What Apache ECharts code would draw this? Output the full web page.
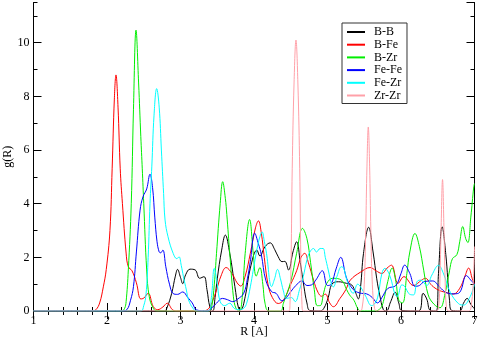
<!DOCTYPE html>
<html>
<head>
<meta charset="utf-8">
<script src="https://cdn.jsdelivr.net/npm/echarts@6/dist/echarts.min.js"></script>
<style>
  html, body { margin: 0; padding: 0; background: #fff; }
  #chart { width: 480px; height: 340px; }
</style>
</head>
<body>
<div id="chart"></div>
<script>
// pair names, in legend order
const names = ['B-B', 'B-Fe', 'B-Zr', 'Fe-Fe', 'Fe-Zr', 'Zr-Zr'];
const colors = ['#000000', '#ff0000', '#00ee00', '#0000ff', '#00ffff', '#ffa0a8'];

// g(R) curves, [R, g]
const bB = [[1.0,0],[2.78,0],[2.82,0.15],[2.88,0.66],[2.93,1.3],[2.96,1.55],[3.0,1.25],[3.03,1.02],[3.07,1.35],[3.13,1.56],[3.2,1.53],[3.26,1.22],[3.32,1.28],[3.36,0.8],[3.4,0.15],[3.44,0],[3.47,0.5],[3.5,1.2],[3.56,2.27],[3.61,2.83],[3.67,2.15],[3.74,0.91],[3.79,0.1],[3.82,0.05],[3.88,0.53],[3.95,1.6],[4.04,2.27],[4.08,2.05],[4.15,2.4],[4.22,2.54],[4.28,2.3],[4.33,2.02],[4.38,1.84],[4.42,1.85],[4.47,1.53],[4.53,2.2],[4.58,2.58],[4.63,1.8],[4.68,0.9],[4.72,0.3],[4.76,0.02],[4.9,0],[4.95,0.1],[5.01,0.5],[5.06,1.0],[5.15,1.09],[5.26,1.03],[5.33,0.97],[5.38,0.7],[5.42,0.45],[5.45,0.9],[5.49,2.15],[5.56,3.12],[5.62,2.2],[5.67,1.2],[5.71,0.6],[5.76,0.05],[5.8,0],[5.86,0.35],[5.92,0.7],[5.97,0.3],[6.01,0.02],[6.24,0],[6.3,0.66],[6.35,0.45],[6.4,0.02],[6.48,0],[6.51,1.4],[6.56,3.14],[6.61,2.1],[6.66,0.4],[6.69,0.02],[6.8,0],[6.85,0.29],[6.9,0.47],[6.95,0.25],[7.0,0.08]];

const bFe = [[1.0,0],[1.8,0],[1.85,0.05],[1.9,0.3],[1.95,0.9],[1.99,1.55],[2.04,3.0],[2.07,5.3],[2.1,7.9],[2.122,8.8],[2.15,7.6],[2.18,5.3],[2.21,4.0],[2.26,2.16],[2.29,1.65],[2.34,1.5],[2.4,1.05],[2.46,0.45],[2.5,0.48],[2.56,0.66],[2.63,0.16],[2.69,0.05],[2.76,0.15],[2.82,0.29],[2.89,0.05],[2.95,0],[3.3,0],[3.38,0.08],[3.44,0.4],[3.49,0.78],[3.55,1.3],[3.62,1.62],[3.7,1.4],[3.77,1.05],[3.82,0.93],[3.88,1.3],[3.95,2.15],[4.02,3.1],[4.06,3.36],[4.1,2.9],[4.14,2.0],[4.19,1.0],[4.25,0.5],[4.33,0.28],[4.4,0.4],[4.5,1.0],[4.58,1.5],[4.64,2.0],[4.69,2.15],[4.74,1.8],[4.81,1.15],[4.87,0.7],[4.92,0.55],[4.97,0.63],[5.03,0.3],[5.08,0.16],[5.17,0.47],[5.25,0.8],[5.31,1.15],[5.45,1.45],[5.58,1.62],[5.66,1.5],[5.74,1.4],[5.81,1.6],[5.87,1.71],[5.96,1.03],[6.04,1.28],[6.17,0.95],[6.28,1.15],[6.33,1.22],[6.42,0.95],[6.51,0.78],[6.6,0.7],[6.71,0.63],[6.8,0.85],[6.87,1.3],[6.92,1.6],[6.97,1.2],[7.0,1.0]];

const bZr = [[1.0,0],[2.2,0],[2.24,0.1],[2.26,0.35],[2.29,1.53],[2.33,4.0],[2.36,7.5],[2.395,10.47],[2.43,8.5],[2.46,6.5],[2.48,5.3],[2.5,4.0],[2.54,1.53],[2.575,0.53],[2.63,0.1],[2.68,0],[3.38,0],[3.42,0.1],[3.46,1.0],[3.49,2.15],[3.54,4.0],[3.574,4.82],[3.61,4.2],[3.63,3.6],[3.67,2.15],[3.72,0.53],[3.755,0.1],[3.8,0],[3.84,0.5],[3.88,2.15],[3.94,3.41],[3.99,2.15],[4.03,1.3],[4.08,1.62],[4.12,1.0],[4.15,0.29],[4.2,0],[4.36,0],[4.4,0.29],[4.5,1.1],[4.58,2.15],[4.66,3.08],[4.72,2.7],[4.77,1.8],[4.82,0.8],[4.86,0.2],[4.9,0.2],[4.95,0.7],[4.99,1.03],[5.07,1.22],[5.19,1.15],[5.26,0.8],[5.3,0.6],[5.36,0.4],[5.41,0.1],[5.45,0],[5.65,0],[5.72,0.1],[5.76,0.35],[5.82,1.1],[5.88,1.6],[5.93,1.1],[5.97,0.4],[6.02,0.3],[6.08,1.4],[6.12,2.2],[6.19,2.89],[6.25,2.4],[6.31,1.5],[6.37,0.6],[6.45,0.25],[6.53,0.12],[6.6,0.66],[6.66,1.5],[6.7,1.95],[6.76,2.1],[6.8,2.6],[6.84,3.15],[6.88,2.7],[6.91,2.55],[6.95,3.5],[6.99,4.63],[7.0,4.75]];

const feFe = [[1.0,0],[2.2,0],[2.27,0.05],[2.32,0.4],[2.36,0.91],[2.4,2.2],[2.45,3.76],[2.49,4.26],[2.54,4.55],[2.585,5.1],[2.62,4.6],[2.65,3.5],[2.68,2.6],[2.71,2.2],[2.73,2.17],[2.76,2.27],[2.8,1.65],[2.85,1.0],[2.9,0.65],[2.96,0.62],[3.03,0.71],[3.1,0.5],[3.16,0.3],[3.22,0.04],[3.36,0],[3.42,0.1],[3.49,0.29],[3.57,0.47],[3.64,0.42],[3.71,0.35],[3.78,0.45],[3.86,0.66],[3.91,1.2],[3.95,1.85],[4.01,2.9],[4.06,2.5],[4.1,2.1],[4.16,1.15],[4.24,0.72],[4.3,0.66],[4.38,0.38],[4.44,0.5],[4.5,0.72],[4.57,0.95],[4.65,1.12],[4.72,0.95],[4.78,0.97],[4.84,1.15],[4.93,1.5],[5.0,0.95],[5.05,1.0],[5.12,1.6],[5.18,2.0],[5.26,1.22],[5.35,0.8],[5.44,0.67],[5.53,0.64],[5.61,0.5],[5.68,0.3],[5.74,0.5],[5.82,0.84],[5.93,0.95],[6.0,1.4],[6.05,1.71],[6.12,1.4],[6.19,0.92],[6.25,0.95],[6.32,1.1],[6.43,1.12],[6.53,0.88],[6.62,0.68],[6.72,0.64],[6.8,0.7],[6.89,1.32],[6.95,1.15],[7.0,1.0]];

const feZr = [[1.0,0],[2.46,0],[2.5,0.2],[2.53,0.6],[2.56,2.0],[2.585,4.0],[2.61,5.4],[2.64,7.3],[2.676,8.29],[2.71,7.6],[2.74,6.0],[2.77,4.38],[2.79,3.39],[2.83,2.77],[2.9,2.15],[2.95,1.95],[2.98,2.02],[3.01,1.7],[3.04,1.28],[3.08,0.78],[3.11,0.41],[3.17,0.1],[3.22,0],[3.38,0],[3.42,0.5],[3.46,1.59],[3.5,1.0],[3.54,0.35],[3.6,0.2],[3.67,0.29],[3.73,0.1],[3.8,0.05],[3.86,0.1],[3.9,0.29],[3.95,0.9],[3.99,1.53],[4.04,2.3],[4.08,2.77],[4.11,2.95],[4.14,2.6],[4.17,2.15],[4.24,0.91],[4.28,1.2],[4.32,1.55],[4.36,1.2],[4.4,0.75],[4.44,0.47],[4.51,0.5],[4.56,0.35],[4.62,0.8],[4.67,1.28],[4.72,1.9],[4.76,2.2],[4.81,2.33],[4.85,2.2],[4.9,2.33],[4.94,2.33],[4.97,2.0],[5.01,1.53],[5.06,0.95],[5.08,0.9],[5.13,1.3],[5.19,1.65],[5.22,1.6],[5.27,1.1],[5.35,0.66],[5.41,1.0],[5.45,0.9],[5.52,0.55],[5.6,0.2],[5.65,0.3],[5.69,0.6],[5.74,1.4],[5.78,1.59],[5.85,1.3],[5.92,0.6],[5.95,0.55],[6.01,0.97],[6.04,0.95],[6.12,0.62],[6.17,0.6],[6.22,1.1],[6.27,1.15],[6.35,0.95],[6.42,1.34],[6.51,1.7],[6.58,1.38],[6.67,0.7],[6.78,0.28],[6.85,0.22],[6.94,0.53],[7.0,1.0]];

const zrZr = [[1.0,0],[4.475,0],[4.49,0.3],[4.505,2.0],[4.52,5.3],[4.545,8.5],[4.571,10.1],[4.597,8.5],[4.622,5.3],[4.637,2.0],[4.652,0.3],[4.67,0],[5.44,0],[5.47,0.1],[5.5,1.0],[5.52,3.0],[5.537,5.4],[5.555,6.86],[5.573,5.4],[5.59,3.0],[5.61,1.0],[5.64,0.1],[5.67,0],[6.48,0],[6.51,0.1],[6.53,1.2],[6.545,3.0],[6.565,4.9],[6.585,3.0],[6.6,1.2],[6.62,0.1],[6.65,0],[6.92,0],[6.96,0.3],[6.985,1.2],[7.0,2.4]];

const curves = [bB, bFe, bZr, feFe, feZr, zrZr];

const font = "'Liberation Serif', 'DejaVu Serif', serif";

let chart = echarts.init(document.getElementById('chart'));

const xBase = {
  type: 'value',
  min: 1,
  max: 7,
  interval: 1,
  axisLine: { show: true, lineStyle: { color: '#000', width: 1 } },
  axisTick: { show: true, inside: true, length: 8, lineStyle: { color: '#000' } },
  minorTick: { show: true, splitNumber: 5, length: 4, lineStyle: { color: '#000' } },
  splitLine: { show: false },
  minorSplitLine: { show: false }
};

const yMajor = {
  type: 'value',
  min: 0,
  max: 11.5,
  interval: 2,
  axisLine: { show: true, lineStyle: { color: '#000', width: 1 } },
  axisTick: { show: true, inside: true, length: 8, lineStyle: { color: '#000' } },
  splitLine: { show: false }
};

const yMinor = {
  type: 'value',
  min: 0,
  max: 11.5,
  interval: 1,
  axisLine: { show: false },
  axisTick: { show: true, inside: true, length: 4, lineStyle: { color: '#000' } },
  axisLabel: { show: false },
  splitLine: { show: false }
};

let series = [];
for (let i = 0; i < names.length; i++) {
  series.push({
    name: names[i],
    type: 'line',
    data: curves[i],
    smooth: 0.4,
    symbol: 'none',
    showSymbol: false,
    clip: true,
    lineStyle: { color: colors[i], width: 1 },
    itemStyle: { color: colors[i] }
  });
}

let option = {
  animation: false,
  backgroundColor: '#fff',
  textStyle: { fontFamily: font },
  grid: { left: 33.5, right: 5.5, top: 2.5, bottom: 29, containLabel: false, outerBoundsMode: 'none' },
  legend: {
    data: names,
    orient: 'vertical',
    left: 342,
    top: 23,
    padding: [3, 5, 2, 5],
    icon: 'rect',
    itemWidth: 18,
    itemHeight: 2,
    itemGap: 0.7,
    borderColor: '#333',
    borderWidth: 1,
    borderRadius: 0,
    backgroundColor: '#fff',
    textStyle: { fontFamily: font, fontSize: 12, lineHeight: 12, color: '#000', padding: [0, 0, 0, 4] }
  },
  xAxis: [
    Object.assign({}, xBase, {
      position: 'bottom',
      name: 'R [A]',
      nameLocation: 'middle',
      nameGap: 15,
      nameMoveOverlap: false,
      nameTextStyle: { fontFamily: font, fontSize: 12, color: '#000' },
      axisLabel: { color: '#000', fontFamily: font, fontSize: 12, margin: 4 }
    }),
    Object.assign({}, xBase, { position: 'top', axisLabel: { show: false } })
  ],
  yAxis: [
    Object.assign({}, yMajor, {
      position: 'left',
      name: 'g(R)',
      nameLocation: 'middle',
      nameRotate: 90,
      nameGap: 20,
      nameMoveOverlap: false,
      nameTextStyle: { fontFamily: font, fontSize: 12, color: '#000' },
      axisLabel: { color: '#000', fontFamily: font, fontSize: 12, margin: 4, showMaxLabel: false }
    }),
    Object.assign({}, yMinor, { position: 'left' }),
    Object.assign({}, yMajor, { position: 'right', axisLabel: { show: false } }),
    Object.assign({}, yMinor, { position: 'right' })
  ],
  series
};

chart.setOption(option);
</script>
</body>
</html>
